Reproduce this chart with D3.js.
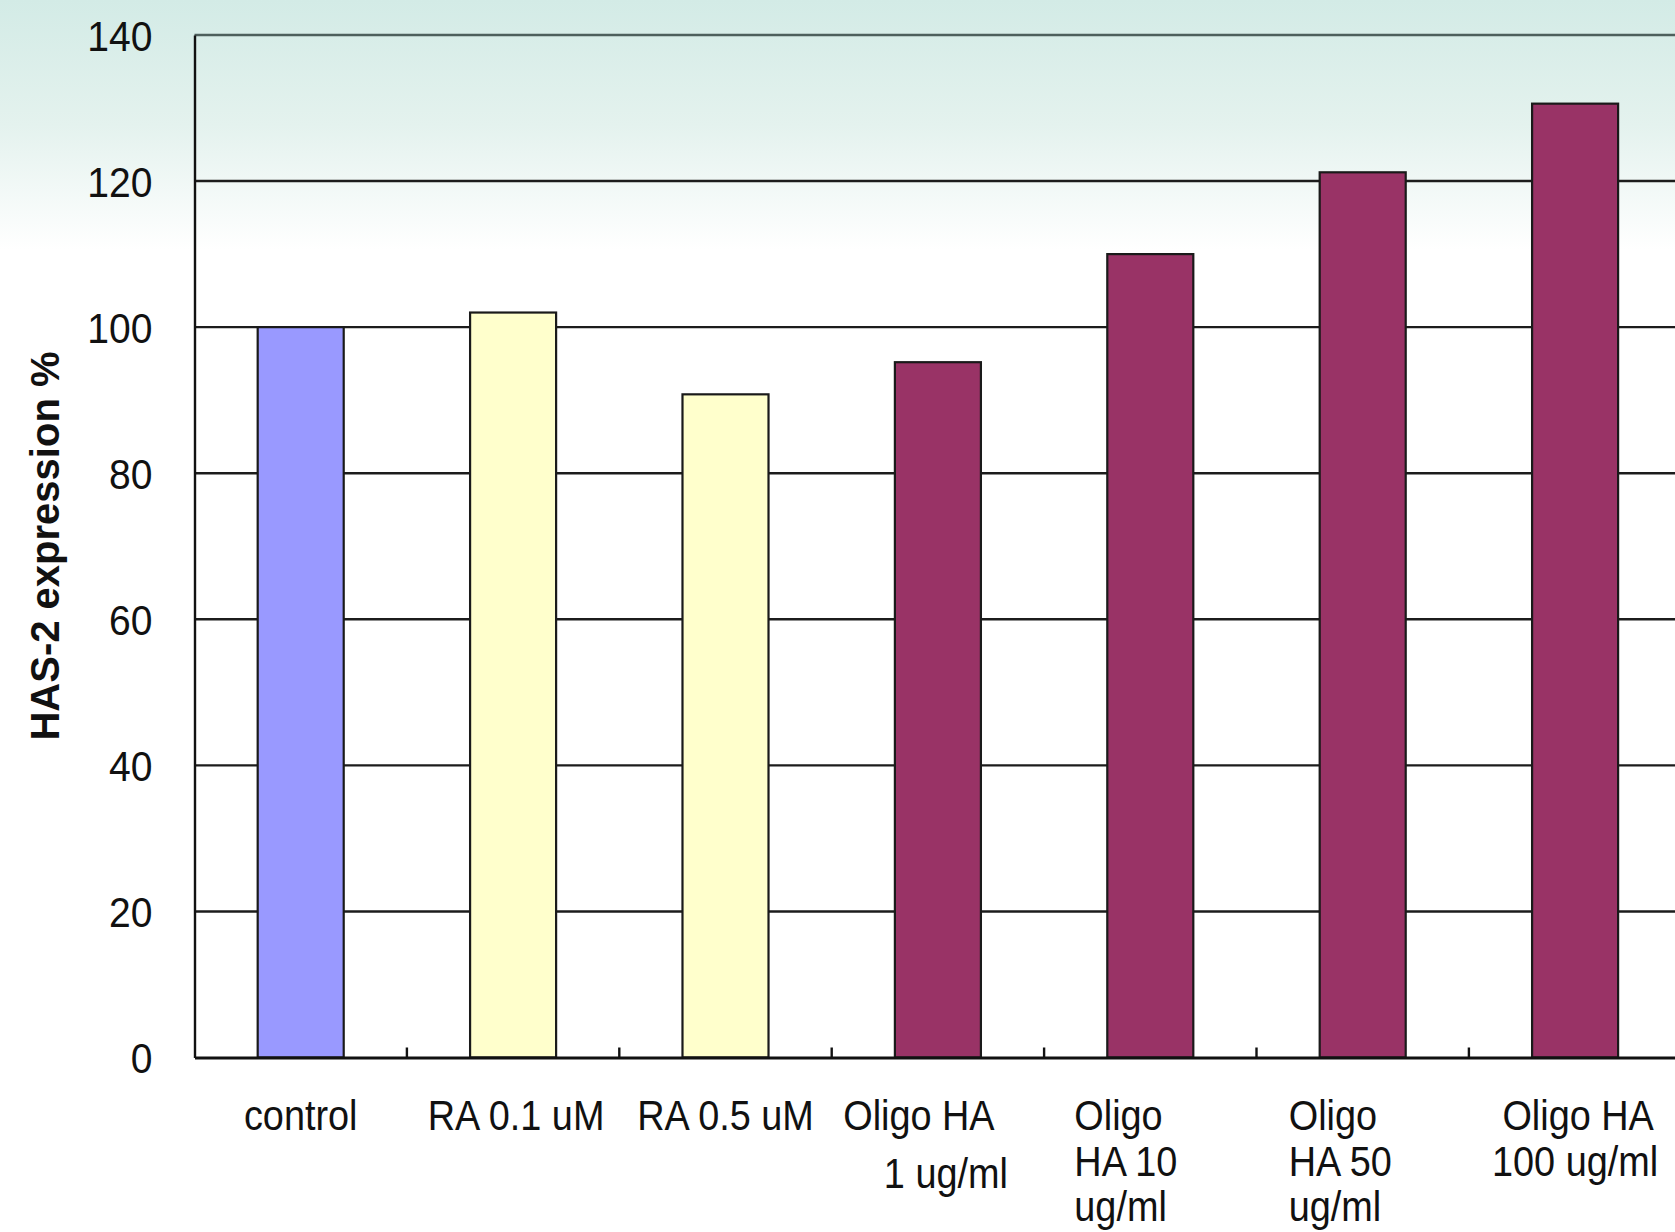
<!DOCTYPE html>
<html>
<head>
<meta charset="utf-8">
<script src="https://d3js.org/d3.v7.min.js"></script>
<style>
  html, body { margin: 0; padding: 0; background: #fff; }
  svg { display: block; }
  text { font-family: "Liberation Sans", Arial, sans-serif; fill: #111; }
</style>
</head>
<body>
<svg id="chart" width="1675" height="1232"></svg>
<script>
// ---- data ----
const categories = ["control", "RA 0.1 uM", "RA 0.5 uM", "Oligo HA 1 ug/ml", "Oligo HA 10 ug/ml", "Oligo HA 50 ug/ml", "Oligo HA 100 ug/ml"];
const values = [100, 102, 90.8, 95.2, 110, 121.2, 130.6];
const groups = ["control", "RA", "RA", "Oligo", "Oligo", "Oligo", "Oligo"];
const labelLines = [["control"], ["RA 0.1 uM"], ["RA 0.5 uM"], ["Oligo HA", "1 ug/ml"], ["Oligo", "HA 10", "ug/ml"], ["Oligo", "HA 50", "ug/ml"], ["Oligo HA", "100 ug/ml"]];
const yTicks = [0, 20, 40, 60, 80, 100, 120, 140];
const yTitle = "HAS-2 expression %";

// ---- layout / style ----
const groupColors = { control: "#9999FF", RA: "#FFFFCC", Oligo: "#993366" };
const labelLayout = [
  { anchor: "middle", dx: [0], dy: [0] },
  { anchor: "middle", dx: [3], dy: [0] },
  { anchor: "middle", dx: [0], dy: [0] },
  { anchor: "middle", dx: [-19, 8], dy: [0, 58] },
  { anchor: "start", dx: [-76, -76, -76], dy: [0, 46, 91] },
  { anchor: "start", dx: [-74, -74, -74], dy: [0, 46, 91] },
  { anchor: "middle", dx: [3, 0], dy: [0, 46] }
];
const plot = { left: 194.5, right: 194.5 + 7 * 212.4, top: 35, bottom: 1057.5 };

const svg = d3.select("#chart");

// background gradient
const defs = svg.append("defs");
const grad = defs.append("linearGradient").attr("id", "bg")
  .attr("gradientUnits", "userSpaceOnUse").attr("x1", 0).attr("y1", 0).attr("x2", 0).attr("y2", 250);
grad.append("stop").attr("offset", 0).attr("stop-color", "#d3ebe6");
grad.append("stop").attr("offset", 0.5).attr("stop-color", "#e4f2ee");
grad.append("stop").attr("offset", 1).attr("stop-color", "#ffffff");
svg.append("rect").attr("x", 0).attr("y", 0).attr("width", 1675).attr("height", 1232).attr("fill", "url(#bg)");

const x = d3.scaleBand().domain(categories).range([plot.left, plot.right]).padding(0);
const y = d3.scaleLinear().domain([0, 140]).range([plot.bottom, plot.top]);
const barW = x.bandwidth() * 0.405;

// gridlines
svg.append("g").selectAll("line").data(yTicks.filter(d => d > 0)).join("line")
  .attr("x1", plot.left).attr("x2", plot.right)
  .attr("y1", d => y(d)).attr("y2", d => y(d))
  .attr("stroke", d => d === 140 ? "#4d5f5c" : "#1c1c1c").attr("stroke-width", 2.4);

// bars
svg.append("g").selectAll("rect").data(categories).join("rect")
  .attr("x", (d) => x(d) + (x.bandwidth() - barW) / 2)
  .attr("y", (d, i) => y(values[i]))
  .attr("width", barW)
  .attr("height", (d, i) => y(0) - y(values[i]))
  .attr("fill", (d, i) => groupColors[groups[i]])
  .attr("stroke", "#1a1a1a").attr("stroke-width", 2.2);

// y axis
const yAxis = d3.axisLeft(y).tickValues(yTicks).tickSize(0).tickPadding(0);
const gy = svg.append("g").attr("transform", `translate(${plot.left},0)`).call(yAxis);
gy.select(".domain").attr("stroke", "#111").attr("stroke-width", 2.4);
gy.selectAll(".tick text").remove();
gy.selectAll(".tick").append("text")
  .attr("transform", "translate(-42,15) scale(0.93,1)")
  .attr("text-anchor", "end")
  .style("font-size", "42px")
  .text(d => d);

// x axis
const xAxis = d3.axisBottom(x).tickSize(0).tickFormat("");
const gx = svg.append("g").attr("transform", `translate(0,${plot.bottom})`).call(xAxis);
gx.select(".domain").attr("stroke", "#111").attr("stroke-width", 3);
// boundary tick marks (pointing up)
svg.append("g").selectAll("line").data(categories.slice(1)).join("line")
  .attr("x1", d => x(d)).attr("x2", d => x(d))
  .attr("y1", plot.bottom).attr("y2", plot.bottom - 10)
  .attr("stroke", "#111").attr("stroke-width", 2.4);

// x labels
const labelBase = 1130;
categories.forEach((c, i) => {
  const cx = x(c) + x.bandwidth() / 2;
  const lay = labelLayout[i];
  labelLines[i].forEach((ln, j) => {
    svg.append("text")
      .attr("transform", `translate(${cx + lay.dx[j]},${labelBase + lay.dy[j]}) scale(0.88,1)`)
      .attr("text-anchor", lay.anchor)
      .style("font-size", "43px")
      .text(ln);
  });
});

// y title
svg.append("text")
  .attr("transform", "translate(59,546) rotate(-90)")
  .attr("text-anchor", "middle")
  .style("font-size", "40px").style("font-weight", "bold")
  .text(yTitle);
</script>
</body>
</html>
